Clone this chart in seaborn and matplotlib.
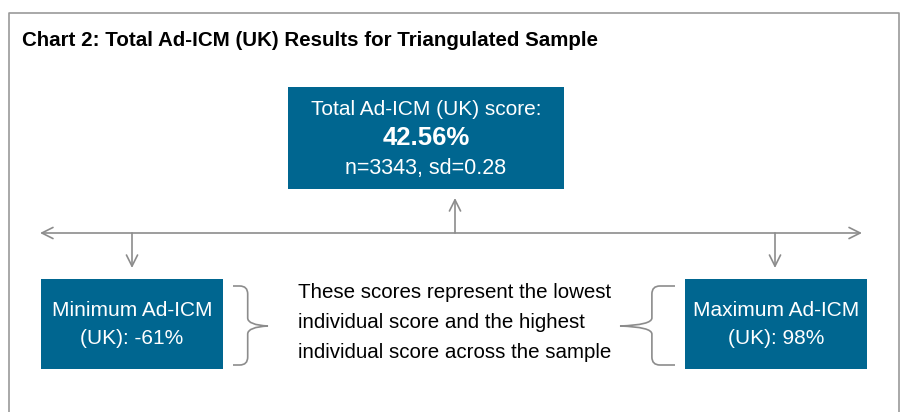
import matplotlib
matplotlib.use('Agg')
import matplotlib.pyplot as plt
from matplotlib.patches import Rectangle, FancyArrowPatch, PathPatch
from matplotlib.path import Path
import seaborn as sns

# Chart content
title = "Chart 2: Total Ad-ICM (UK) Results for Triangulated Sample"
total_label = "Total Ad-ICM (UK) score:"
total_score = 42.56
n_sample = 3343
sd_score = 0.28
min_score = -61
max_score = 98
note_lines = ["These scores represent the lowest",
              "individual score and the highest",
              "individual score across the sample"]

BLUE = "#006690"
GREY = "#8c8c8c"
FS = 15

sns.set_theme(style="white")
plt.rcParams['font.family'] = ['Liberation Sans', 'DejaVu Sans']

fig = plt.figure(figsize=(9.01, 4.12), dpi=100)
ax = fig.add_axes([0, 0, 1, 1])
ax.set_xlim(0, 901)
ax.set_ylim(412, 0)
ax.axis('off')

# outer frame (open at the bottom)
ax.plot([8.5, 8.5, 898.5, 898.5], [415, 12.5, 12.5, 415], color="#9a9a9a", lw=1.2)
ax.text(22, 40, title, fontsize=14.8, fontweight='bold', va='center', ha='left', color='black')


def box(x0, y0, x1, y1):
    ax.add_patch(Rectangle((x0, y0), x1 - x0, y1 - y0, facecolor=BLUE, edgecolor='none'))


def arrow(p0, p1, style='->'):
    ax.add_patch(FancyArrowPatch(p0, p1, arrowstyle=style, mutation_scale=20,
                                 color=GREY, lw=1.2, shrinkA=0, shrinkB=0))


def brace(x_open, x_tip, y0, y1, ym):
    # curly brace; direction given by x_open -> x_tip
    d = x_tip - x_open
    xm = x_open + d * 0.42
    r = 8
    s = 1 if d > 0 else -1
    verts = [(x_open, y0), (xm - s * r, y0), (xm, y0), (xm, y0 + r),
             (xm, ym - r), (xm, ym - 1), (x_tip, ym),
             (xm, ym + 1), (xm, ym + r),
             (xm, y1 - r), (xm, y1), (xm - s * r, y1), (x_open, y1)]
    codes = [Path.MOVETO, Path.LINETO, Path.CURVE3, Path.CURVE3,
             Path.LINETO, Path.CURVE3, Path.CURVE3,
             Path.CURVE3, Path.CURVE3,
             Path.LINETO, Path.CURVE3, Path.CURVE3, Path.LINETO]
    ax.add_patch(PathPatch(Path(verts, codes), facecolor='none', edgecolor=GREY, lw=1.2))


# top box
box(288, 87, 564, 189)
ax.text(426, 109, total_label, fontsize=FS, color='white', ha='center', va='center')
ax.text(426, 138, f"{total_score:.2f}%", fontsize=18.5, fontweight='bold', color='white',
        ha='center', va='center')
ax.text(426, 168, f"n={n_sample}, sd={sd_score}", fontsize=15.5, color='white',
        ha='center', va='center')

# arrows
arrow((40, 233), (862, 233), '<->')
arrow((455, 233), (455, 198))
arrow((132, 233), (132, 268))
arrow((775, 233), (775, 268))

# min / max boxes
box(41, 279, 223, 369)
ax.text(132, 311, "Minimum Ad-ICM", fontsize=FS, color='white', ha='center', va='center')
ax.text(132, 339, f"(UK): {min_score}%", fontsize=FS, color='white', ha='center', va='center')

box(685, 279, 867, 369)
ax.text(776, 311, "Maximum Ad-ICM", fontsize=FS, color='white', ha='center', va='center')
ax.text(776, 339, f"(UK): {max_score}%", fontsize=FS, color='white', ha='center', va='center')

# braces and note
brace(233, 268, 286, 365, 326)
brace(675, 620, 286, 365, 326)
for i, line in enumerate(note_lines):
    ax.text(298, 292 + 30 * i, line, fontsize=14.8, color='black', ha='left', va='center')

fig.savefig('out.png', dpi=100)
